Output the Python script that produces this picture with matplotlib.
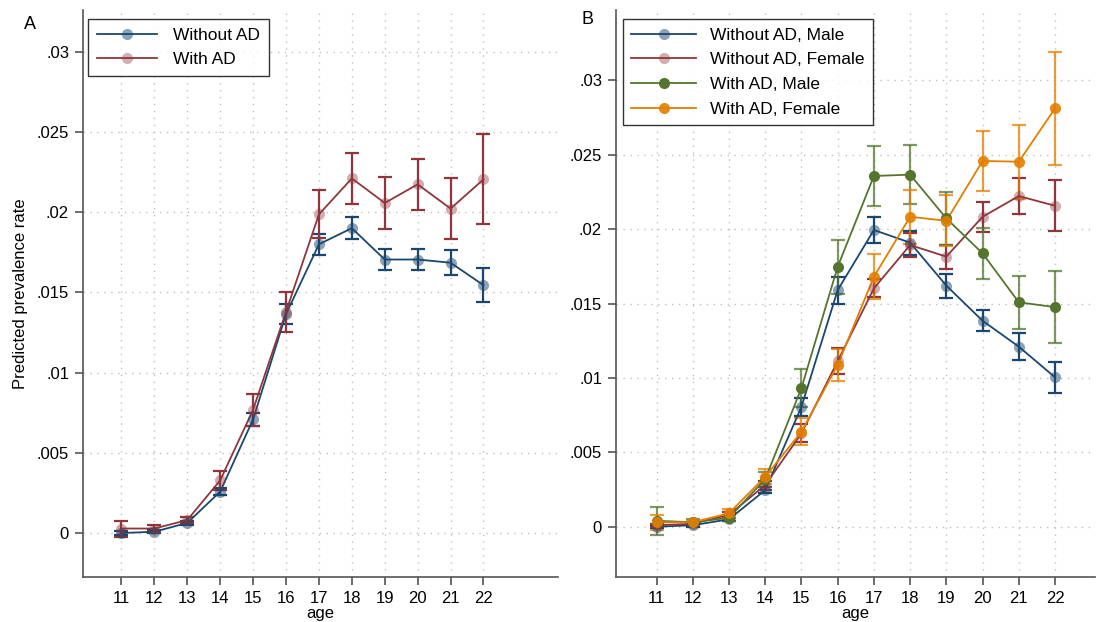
import matplotlib
matplotlib.use("Agg")
import matplotlib.pyplot as plt

plt.rcParams['font.family'] = ['Liberation Sans', 'DejaVu Sans']

ages = [11, 12, 13, 14, 15, 16, 17, 18, 19, 20, 21, 22]

# panel A
noad = [0.00002, 0.0001, 0.00065, 0.0026, 0.0071, 0.01365, 0.0180, 0.0190, 0.01705, 0.01705, 0.01685, 0.01545]
noad_err = [0.0001, 0.0001, 0.0001, 0.0002, 0.0004, 0.0006, 0.00065, 0.00068, 0.00063, 0.00063, 0.00077, 0.00105]
ad = [0.0003, 0.0003, 0.00083, 0.0033, 0.0077, 0.0138, 0.01986, 0.0221, 0.02057, 0.02173, 0.02022, 0.02204]
ad_err = [0.0005, 0.0002, 0.0002, 0.0006, 0.001, 0.00125, 0.0015, 0.0016, 0.0016, 0.0016, 0.0019, 0.0028]

# panel B
m_noad = [0.0, 0.0001, 0.0005, 0.00246, 0.00806, 0.0159, 0.01994, 0.01909, 0.0162, 0.01384, 0.0121, 0.01004]
m_noad_err = [0.0001, 0.0001, 0.0001, 0.0002, 0.0006, 0.0009, 0.0009, 0.0008, 0.0008, 0.0007, 0.0009, 0.00105]
f_noad = [0.0001, 0.0002, 0.0008, 0.0028, 0.00627, 0.01113, 0.01602, 0.01893, 0.01815, 0.02083, 0.02222, 0.02157]
f_noad_err = [0.0001, 0.0001, 0.0002, 0.0003, 0.0006, 0.0009, 0.0006, 0.0008, 0.0008, 0.001, 0.0012, 0.0017]
m_ad = [0.0004, 0.0003, 0.0006, 0.0032, 0.00932, 0.01747, 0.02357, 0.02366, 0.02072, 0.01837, 0.01508, 0.01476]
m_ad_err = [0.00095, 0.0002, 0.0002, 0.0005, 0.0013, 0.0018, 0.002, 0.002, 0.0018, 0.0017, 0.0018, 0.0024]
f_ad = [0.0003, 0.0003, 0.0009, 0.00336, 0.00638, 0.01087, 0.0168, 0.02083, 0.02056, 0.02458, 0.02453, 0.02812]
f_ad_err = [0.0005, 0.0001, 0.0003, 0.0005, 0.0009, 0.0011, 0.0015, 0.0018, 0.0017, 0.002, 0.0025, 0.0038]

yticks = [0, 0.005, 0.01, 0.015, 0.02, 0.025, 0.03]
ylabels = ['0', '.005', '.01', '.015', '.02', '.025', '.03']

NAVY = '#1a476f'
MAROON = '#90353b'
GREEN = '#55752f'
ORANGE = '#e37e00'


def series(ax, y, err, color, label, mk_alpha, bar_alpha):
    ax.errorbar(ages, y, yerr=err, fmt='none', ecolor=color, elinewidth=1.6,
                capsize=5, capthick=1.6, alpha=bar_alpha, zorder=2)
    ax.plot(ages, y, color=color, lw=1.3, zorder=3)
    ax.plot(ages, y, 'o', color=color, ms=8, alpha=mk_alpha, mec='none', zorder=4)
    # legend proxy
    ax.plot([], [], '-o', color=color, lw=1.3, ms=8, mec='none',
            markerfacecolor=matplotlib.colors.to_rgba(color, mk_alpha), label=label)


def style(ax, xlim, ylim):
    ax.set_xlim(*xlim)
    ax.set_ylim(*ylim)
    ax.set_xticks(ages)
    ax.set_yticks(yticks)
    ax.set_yticklabels(ylabels)
    for s in ['top', 'right']:
        ax.spines[s].set_visible(False)
    for s in ['left', 'bottom']:
        ax.spines[s].set_color('#555555')
        ax.spines[s].set_linewidth(1.2)
    ax.tick_params(direction='out', length=6, width=1.2, color='#555555',
                   labelsize=12, pad=4)
    ax.grid(True, color='#c0c0c0', linestyle=(0, (1, 4)), lw=1)
    ax.set_axisbelow(True)
    ax.set_xlabel('age', fontsize=12, labelpad=0)


fig = plt.figure(figsize=(10.96, 6.22), dpi=100)
axA = fig.add_axes([0.0757, 0.0728, 0.433, 0.911])
axB = fig.add_axes([0.562, 0.0728, 0.437, 0.911])

series(axA, noad, noad_err, NAVY, 'Without AD', 0.5, 1.0)
series(axA, ad, ad_err, MAROON, 'With AD', 0.4, 1.0)
style(axA, (9.83, 24.25), (-0.0027, 0.03258))
axA.set_ylabel('Predicted prevalence rate', fontsize=12, labelpad=6)
axA.legend(loc='upper left', bbox_to_anchor=(-0.008, 1.0), fontsize=12.5,
           frameon=True, fancybox=False, edgecolor='black', handlelength=3.5,
           handletextpad=0.9, borderpad=0.5, labelspacing=0.55)
fig.text(0.0215, 0.953, 'A', fontsize=13)

series(axB, m_noad, m_noad_err, NAVY, 'Without AD, Male', 0.5, 1.0)
series(axB, f_noad, f_noad_err, MAROON, 'Without AD, Female', 0.4, 1.0)
series(axB, m_ad, m_ad_err, GREEN, 'With AD, Male', 1.0, 0.75)
series(axB, f_ad, f_ad_err, ORANGE, 'With AD, Female', 0.9, 0.75)
style(axB, (9.88, 23.1), (-0.00336, 0.03472))
axB.legend(loc='upper left', bbox_to_anchor=(-0.004, 1.0), fontsize=12.5,
           frameon=True, fancybox=False, edgecolor='black', handlelength=3.7,
           handletextpad=0.8, borderpad=0.5, labelspacing=0.55)
fig.text(0.531, 0.962, 'B', fontsize=13)

fig.savefig('out.png', dpi=100)
